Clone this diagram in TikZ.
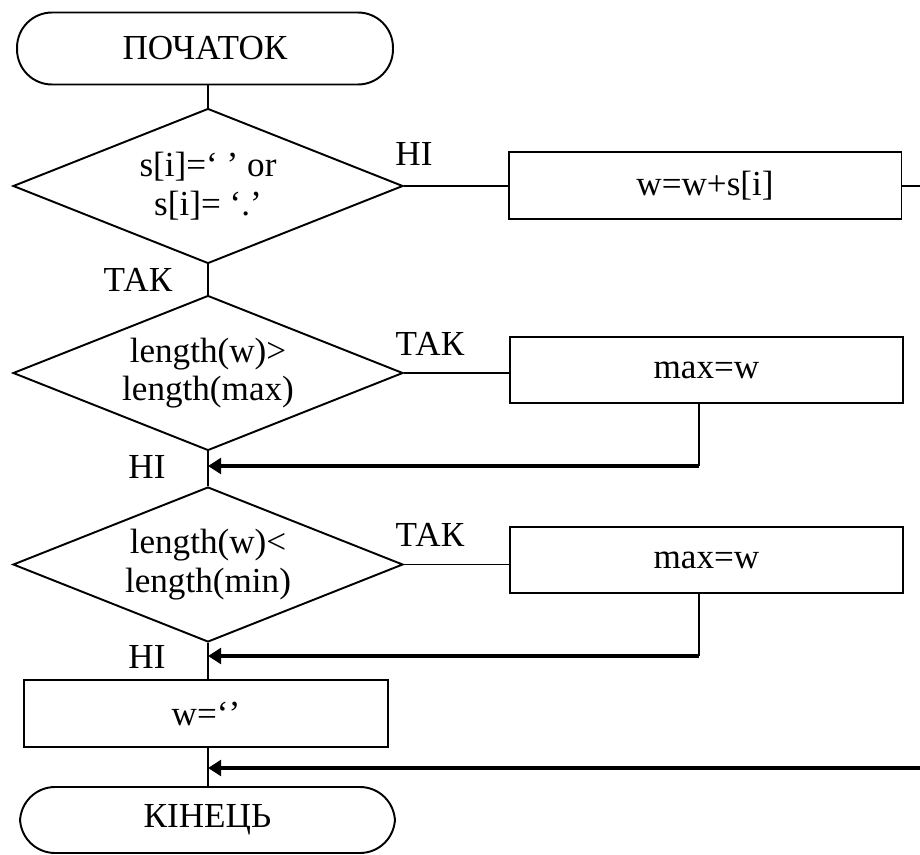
\documentclass[tikz,border=0pt]{standalone}
\usepackage{fontspec}
\setmainfont{Liberation Serif}
\usepackage{tikz}
\usetikzlibrary{shapes.geometric,arrows.meta}

\begin{document}
\begin{tikzpicture}[x=0.02cm, y=-0.02cm, line width=1.1pt,
	font=\fontsize{20}{22}\selectfont]

\tikzstyle{terminal} = [draw=black, rectangle, rounded corners=0.7cm, minimum width=7.52cm, minimum height=1.44cm]
\tikzstyle{decision} = [draw=black, diamond, aspect=2.5, inner sep=0pt, minimum width=7.8cm, minimum height=3.1cm, align=center]
\tikzstyle{process} = [draw=black, rectangle, minimum width=7.86cm, minimum height=1.33cm]
\tikzstyle{label} = [inner sep=0pt]
\tikzstyle{back} = [-{Triangle[length=7.5pt, width=9pt]}, line width=2.2pt]

\useasboundingbox (0,0) rectangle (920,855);

%------------------------------------------------------------
	\node[terminal] (start) at (205,48.5) {ПОЧАТОК};

	\node[decision] (d1) at (208,186) {s[i]=‘ ’ or\\s[i]= ‘.’};
	\node[process]  (p1) at (705,185.5) {w=w+s[i]};
	\coordinate (r1) at (920,186);

	\node[label] (no1)  at (414,154) {НІ};
	\node[label] (yes1) at (138,280) {ТАК};

	\path (d1.north |- start.south) edge (d1.north);
	\path (d1.east) edge (d1.east -| p1.west);
	\path (p1.east |- r1) edge (r1);

%------------------------------------------------------------
	\node[decision] (d2) at (208,373) {length(w)>\\length(max)};
	\node[process]  (p2) at (706.5,370) {max=w};
	\coordinate (m1) at (208,466);

	\node[label] (yes2) at (430,344) {ТАК};
	\node[label] (no2)  at (147,467) {НІ};

	\path (d1.south) edge (d2.north);
	\path (d2.east) edge (d2.east -| p2.west);
	\path ([xshift=-4.5]p2.south) edge ([xshift=-4.5]p2.south |- m1);
	\path[back] ([xshift=-4.5]p2.south |- m1) edge (m1);

%------------------------------------------------------------
	\node[decision] (d3) at (208,564.5) {length(w)<\\length(min)};
	\node[process]  (p3) at (706.5,560) {max=w};
	\coordinate (m2) at (208,656);

	\node[label] (yes3) at (430,535) {ТАК};
	\node[label] (no3)  at (147,657) {НІ};

	\path (d2.south) edge (d3.north);
	\path (d3.east) edge (d3.east -| p3.west);
	\path ([xshift=-4.5]p3.south) edge ([xshift=-4.5]p3.south |- m2);
	\path[back] ([xshift=-4.5]p3.south |- m2) edge (m2);

%------------------------------------------------------------
	\node[process, minimum width=7.28cm] (clr) at (206,713.5) {w=‘’};
	\node[terminal, minimum width=7.5cm, minimum height=1.32cm] (stop) at (207.5,820) {КІНЕЦЬ};
	\coordinate (r2) at (920,768);
	\coordinate (m3) at (208,768);

	\path (d3.south) edge (d3.south |- clr.north);
	\path (d3.south |- clr.south) edge (d3.south |- stop.north);
	\path[back] (r2) edge (m3);

\end{tikzpicture}
\end{document}
